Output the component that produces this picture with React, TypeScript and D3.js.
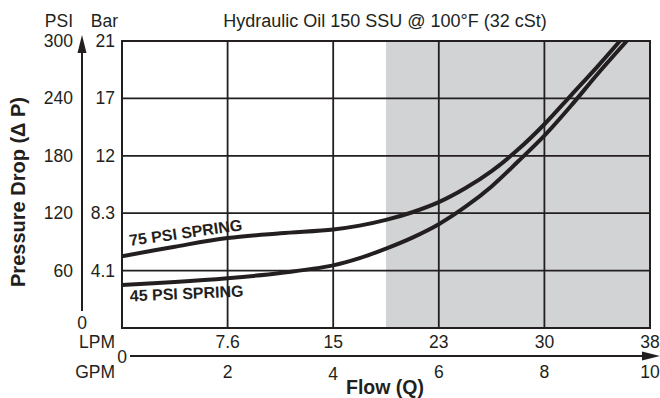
import React from "react";
import * as d3 from "d3";

const gpmTicks = [2, 4, 6, 8, 10];
const lpmTicks = ["7.6", "15", "23", "30", "38"];
const psiTicks = [0, 60, 120, 180, 240, 300];
const barTicks = ["", "4.1", "8.3", "12", "17", "21"];

const flow75 = [0, 1, 2, 3, 4, 4.5, 5, 5.5, 6, 6.5, 7, 7.5, 8, 8.5, 9, 9.43];
const psi75 = [75, 85, 94, 99, 103, 107, 113, 121, 131.5, 146, 164, 186.5, 213, 243, 273, 300];
const flow45 = [0, 1, 2, 3, 4, 4.5, 5, 5.5, 6, 6.5, 7, 7.5, 8, 8.5, 9, 9.56];
const psi45 = [45, 48, 52, 57.5, 65.5, 73, 83, 94.5, 108.5, 126.5, 148, 174, 201, 232, 265, 300];

const shadeFrom = 5;

const FONT = "'Liberation Sans', Arial, Helvetica, sans-serif";
const INK = "#231f20";

export default function App() {
  const W = 660, H = 398;
  const x = d3.scaleLinear().domain([0, 10]).range([122, 650]);
  const y = d3.scaleLinear().domain([0, 300]).range([328, 41]);

  const line = d3
    .line<[number, number]>()
    .x((d) => x(d[0]))
    .y((d) => y(d[1]))
    .curve(d3.curveCatmullRom.alpha(0.5));

  const d75 = line(flow75.map((f, i) => [f, psi75[i]] as [number, number])) || "";
  const d45 = line(flow45.map((f, i) => [f, psi45[i]] as [number, number])) || "";

  const axX = 82;
  const axisY = 356;
  const TS = 17.5;

  return (
    <svg
      width={W}
      height={H}
      viewBox={`0 0 ${W} ${H}`}
      style={{ position: "fixed", left: 0, top: 0, background: "#fff" }}
      fontFamily={FONT}
    >
      <defs>
        <clipPath id="plotClip">
          <rect x={x(0)} y={y(300)} width={x(10) - x(0)} height={y(0) - y(300)} />
        </clipPath>
      </defs>
      <rect width={W} height={H} fill="#fff" />
      <rect
        x={x(shadeFrom)}
        y={y(300)}
        width={x(10) - x(shadeFrom)}
        height={y(0) - y(300)}
        fill="#d1d3d4"
      />
      {gpmTicks.slice(0, -1).map((g) => (
        <line key={"v" + g} x1={x(g)} x2={x(g)} y1={y(0)} y2={y(300)} stroke={INK} strokeWidth={1.8} />
      ))}
      {psiTicks.slice(1, -1).map((p) => (
        <line key={"h" + p} x1={x(0)} x2={x(10)} y1={y(p)} y2={y(p)} stroke={INK} strokeWidth={1.8} />
      ))}
      <rect
        x={x(0)}
        y={y(300)}
        width={x(10) - x(0)}
        height={y(0) - y(300)}
        fill="none"
        stroke={INK}
        strokeWidth={2}
      />
      <g clipPath="url(#plotClip)">
        <path d={d75} fill="none" stroke={INK} strokeWidth={4} strokeLinecap="round" />
        <path d={d45} fill="none" stroke={INK} strokeWidth={4} strokeLinecap="round" />
      </g>
      <text x={130} y={246} transform="rotate(-8 130 246)" fontSize={16} fontWeight="bold" fill={INK}>
        75 PSI SPRING
      </text>
      <text x={130} y={301.5} transform="rotate(-2.5 130 301.5)" fontSize={16} fontWeight="bold" fill={INK}>
        45 PSI SPRING
      </text>

      <text x={385} y={26.5} textAnchor="middle" fontSize={18} fill={INK}>
        Hydraulic Oil 150 SSU @ 100°F (32 cSt)
      </text>

      <line x1={axX} x2={axX} y1={311} y2={50} stroke={INK} strokeWidth={2} />
      <path d={`M${axX},35 L${axX - 4.5},53 L${axX + 4.5},53 Z`} fill={INK} />
      <text x={73} y={26.5} textAnchor="end" fontSize={TS} fill={INK}>PSI</text>
      <text x={118} y={26.5} textAnchor="end" fontSize={TS} fill={INK}>Bar</text>
      {psiTicks.map((p, i) =>
        p === 0 ? (
          <text key={"p" + p} x={axX} y={329} textAnchor="middle" fontSize={TS} fill={INK}>
            {p}
          </text>
        ) : (
          <g key={"p" + p}>
            <text x={73} y={y(p) + 6} textAnchor="end" fontSize={TS} fill={INK}>
              {p}
            </text>
            <text x={115} y={y(p) + 6} textAnchor="end" fontSize={TS} fill={INK}>
              {barTicks[i]}
            </text>
          </g>
        )
      )}
      <text
        transform="translate(25,192) rotate(-90)"
        textAnchor="middle"
        fontSize={20}
        fontWeight="bold"
        fill={INK}
      >
        Pressure Drop (Δ P)
      </text>

      <text x={115} y={348} textAnchor="end" fontSize={TS} fill={INK}>LPM</text>
      {lpmTicks.map((l, i) => (
        <text key={"l" + l} x={x(gpmTicks[i])} y={347.5} textAnchor="middle" fontSize={TS} fill={INK}>
          {l}
        </text>
      ))}
      <text x={127} y={362.5} textAnchor="end" fontSize={TS} fill={INK}>0</text>
      <line x1={130} x2={646} y1={axisY} y2={axisY} stroke={INK} strokeWidth={2} />
      <path d={`M660,${axisY} L642,${axisY - 4.5} L642,${axisY + 4.5} Z`} fill={INK} />
      <text x={115} y={378} textAnchor="end" fontSize={TS} fill={INK}>GPM</text>
      {gpmTicks.map((g) => (
        <text key={"g" + g} x={x(g)} y={g === 4 ? 380 : 378} textAnchor="middle" fontSize={TS} fill={INK}>
          {g}
        </text>
      ))}
      <text x={385} y={394} textAnchor="middle" fontSize={19.5} fontWeight="bold" fill={INK}>
        Flow (Q)
      </text>
    </svg>
  );
}
